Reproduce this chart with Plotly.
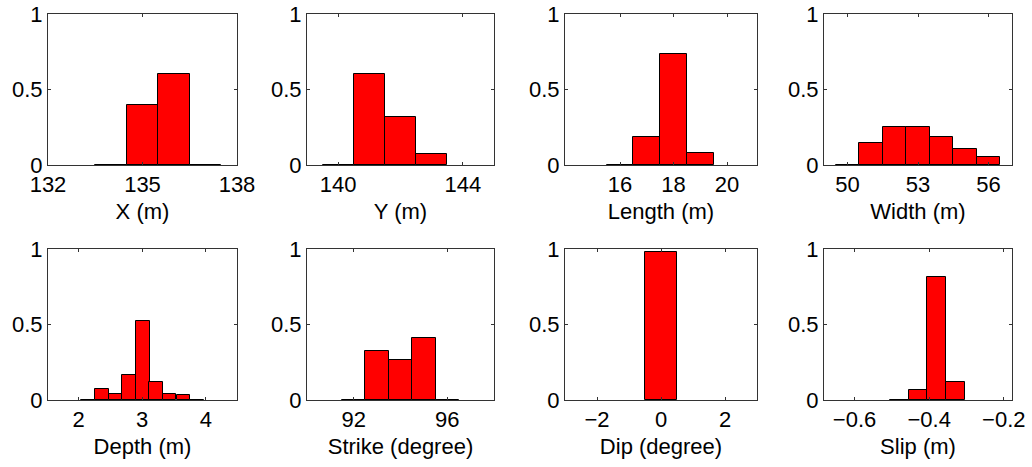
import plotly.graph_objects as go

# ---- data (bin centres and normalised frequencies) ----
x_bins = [134, 135, 136, 137]
x_freq = [0.0, 0.40, 0.60, 0.0]

y_bins = [140, 141, 142, 143]
y_freq = [0.0, 0.605, 0.32, 0.075]

len_bins = [16, 17, 18, 19]
len_freq = [0.0, 0.188, 0.735, 0.077]

wid_bins = [50, 51, 52, 53, 54, 55, 56]
wid_freq = [0.0, 0.148, 0.252, 0.252, 0.185, 0.106, 0.053]

dep_bins = [2.15, 2.37, 2.58, 2.79, 3.01, 3.22, 3.43, 3.65, 3.86]
dep_freq = [0.0, 0.075, 0.040, 0.168, 0.525, 0.117, 0.037, 0.031, 0.0]

str_bins = [92, 93, 94, 95, 96]
str_freq = [0.0, 0.325, 0.262, 0.408, 0.0]

dip_bins = [0]
dip_freq = [0.98]

slip_bins = [-0.48, -0.43, -0.38, -0.33]
slip_freq = [0.0, 0.066, 0.812, 0.117]

panels = [
    dict(bins=x_bins, freq=x_freq, width=1.0, xr=[132, 138], ticks=[132, 135, 138], title="X (m)"),
    dict(bins=y_bins, freq=y_freq, width=1.0, xr=[139, 145], ticks=[140, 144], title="Y (m)"),
    dict(bins=len_bins, freq=len_freq, width=1.0, xr=[13.94, 21.12], ticks=[16, 18, 20], title="Length (m)"),
    dict(bins=wid_bins, freq=wid_freq, width=1.0, xr=[49, 57], ticks=[50, 53, 56], title="Width (m)"),
    dict(bins=dep_bins, freq=dep_freq, width=0.214, xr=[1.52, 4.49], ticks=[2, 3, 4], title="Depth (m)"),
    dict(bins=str_bins, freq=str_freq, width=1.0, xr=[90, 98], ticks=[92, 96], title="Strike (degree)"),
    dict(bins=dip_bins, freq=dip_freq, width=1.0, xr=[-3, 3], ticks=[-2, 0, 2], title="Dip (degree)"),
    dict(bins=slip_bins, freq=slip_freq, width=0.05, xr=[-0.682, -0.178], ticks=[-0.6, -0.4, -0.2], title="Slip (m)"),
]

W, H = 1032, 467
cols_px = [(48, 237), (307, 494), (565, 757), (824, 1012)]
rows_px = [(14, 165), (249, 400)]

fig = go.Figure()
axis_color = "#333333"
font = dict(family="Liberation Sans, Arial, sans-serif", size=22, color="black")

for i, p in enumerate(panels):
    r, c = divmod(i, 4)
    n = i + 1
    xa = "x" if n == 1 else f"x{n}"
    ya = "y" if n == 1 else f"y{n}"
    fig.add_trace(go.Bar(
        x=p["bins"], y=p["freq"], width=p["width"],
        marker=dict(color="#FF0000", line=dict(color="black", width=1)),
        xaxis=xa, yaxis=ya, showlegend=False,
    ))
    x0, x1 = cols_px[c]
    y0, y1 = rows_px[r]
    xkey = "xaxis" if n == 1 else f"xaxis{n}"
    ykey = "yaxis" if n == 1 else f"yaxis{n}"
    ticktext = [("\u2212" + f"{abs(t):g}") if t < 0 else f"{t:g}" for t in p["ticks"]]
    fig.update_layout(**{
        xkey: dict(
            domain=[x0 / W, x1 / W], anchor=ya, range=p["xr"],
            tickvals=p["ticks"], ticktext=ticktext,
            ticks="inside", ticklen=3, tickcolor=axis_color,
            showline=True, linecolor=axis_color, linewidth=1, mirror="ticks",
            showgrid=False, zeroline=False, tickfont=font, automargin=False,
            ticklabeloverflow="allow",
            title=dict(text=p["title"], font=font, standoff=7),
        ),
        ykey: dict(
            domain=[1 - y1 / H, 1 - y0 / H], anchor=xa, range=[0, 1],
            tickvals=[0, 0.5, 1], ticktext=["0", "0.5", "1"],
            ticks="inside", ticklen=3, tickcolor=axis_color,
            showline=True, linecolor=axis_color, linewidth=1, mirror="ticks",
            showgrid=False, zeroline=False, tickfont=font, automargin=False,
            ticklabeloverflow="allow",
        ),
    })

fig.update_layout(
    template="none",
    width=W, height=H,
    margin=dict(l=0, r=0, t=0, b=0),
    paper_bgcolor="white", plot_bgcolor="white",
    bargap=0,
)

fig.write_html("out.html")
